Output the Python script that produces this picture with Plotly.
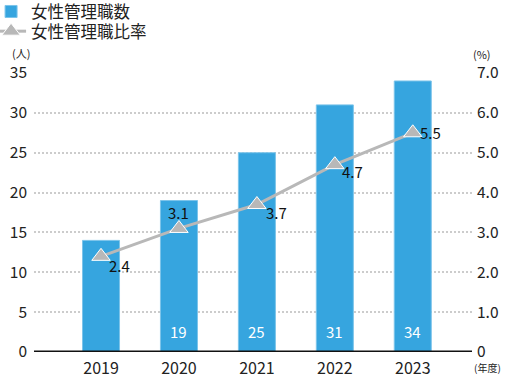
import plotly.graph_objects as go

years = ["2019", "2020", "2021", "2022", "2023"]
managers = [14, 19, 25, 31, 34]
manager_labels = ["", "19", "25", "31", "34"]
ratio = [2.4, 3.1, 3.7, 4.7, 5.5]
ratio_labels = ["2.4", "3.1", "3.7", "4.7", "5.5"]
left_ticks = [0, 5, 10, 15, 20, 25, 30, 35]
right_ticks = [0, 1, 2, 3, 4, 5, 6, 7]
right_tick_text = ["0", "1.0", "2.0", "3.0", "4.0", "5.0", "6.0", "7.0"]

# label placement (style): pixel offsets of each ratio label from its marker
label_dx = [18, 0, 20, 18, 18]
label_dy = [-9, 16, -8, -7, 0]

FONT = "Noto Sans CJK JP, Roboto, sans-serif"
xs = list(range(len(years)))

fig = go.Figure()
fig.add_trace(go.Bar(
    x=xs, y=managers, name="女性管理職数", legend="legend",
    marker=dict(color="#36a5df", line=dict(color="#7cc4ea", width=1)),
    width=0.475, hoverinfo="skip",
))
fig.add_trace(go.Scatter(
    x=xs, y=ratio, name="女性管理職比率", yaxis="y2", legend="legend2",
    mode="lines+markers",
    line=dict(color="#b8b8b8", width=3),
    marker=dict(symbol="triangle-up", size=16, color="#b8b8b8", line=dict(color="white", width=1)),
    hoverinfo="skip",
))

annotations = []
for xi, t in zip(xs, manager_labels):
    if t:
        annotations.append(dict(x=xi, y=0, xref="x", yref="y", text=t, showarrow=False,
                                yshift=8, xanchor="center", yanchor="bottom",
                                font=dict(size=15, color="white", family=FONT)))
for xi, v, t, dx, dy in zip(xs, ratio, ratio_labels, label_dx, label_dy):
    annotations.append(dict(x=xi, y=v, xref="x", yref="y2", text=t, showarrow=False,
                            xshift=dx, yshift=dy, xanchor="center", yanchor="middle",
                            font=dict(size=15, color="#111", family=FONT)))
annotations += [
    dict(text="(人)", xref="paper", yref="paper", x=-0.0297, y=1.0717,
         xanchor="center", yanchor="middle", showarrow=False, font=dict(size=11, color="#222")),
    dict(text="(%)", xref="paper", yref="paper", x=1.0228, y=1.068,
         xanchor="center", yanchor="middle", showarrow=False, font=dict(size=11, color="#222")),
    dict(text="(年度)", xref="paper", yref="paper", x=1.0365, y=-0.0573,
         xanchor="center", yanchor="middle", showarrow=False, font=dict(size=10, color="#222")),
]

legend_common = dict(xref="paper", yref="container", xanchor="left", yanchor="middle",
                     font=dict(size=16.5, color="#222", family=FONT),
                     bgcolor="rgba(0,0,0,0)", itemwidth=30)

fig.update_layout(
    width=505, height=379,
    margin=dict(l=34, r=33, t=73, b=27, autoexpand=False),
    paper_bgcolor="white", plot_bgcolor="white",
    font=dict(family=FONT, color="#222", size=14),
    showlegend=True,
    legend=dict(x=-0.098, y=0.969, **legend_common),
    legend2=dict(x=-0.098, y=0.917, **legend_common),
    xaxis=dict(range=[-0.86, 4.76], tickvals=xs, ticktext=years,
               showgrid=False, zeroline=False, showline=False, ticks="", automargin=False,
               ticklabelstandoff=5, tickfont=dict(size=16, color="#222")),
    yaxis=dict(range=[0, 35], tickvals=left_ticks, showgrid=True, automargin=False,
               gridcolor="#cccccc", griddash="2px,2px", gridwidth=1.5,
               zeroline=False, showline=False, ticks="", ticklabelstandoff=6,
               tickfont=dict(size=15.5, color="#222")),
    yaxis2=dict(range=[0, 7], tickvals=right_ticks, ticktext=right_tick_text, automargin=False,
                overlaying="y", side="right", showgrid=False, zeroline=False,
                showline=False, ticks="", ticklabelstandoff=4,
                tickfont=dict(size=15.5, color="#222")),
    shapes=[dict(type="line", xref="paper", yref="y", x0=0, x1=1, y0=0, y1=0,
                 line=dict(color="#111", width=3))],
    annotations=annotations,
)

fig.write_html("out.html", config={"displayModeBar": False},
               post_script="document.body.style.margin='0';")
